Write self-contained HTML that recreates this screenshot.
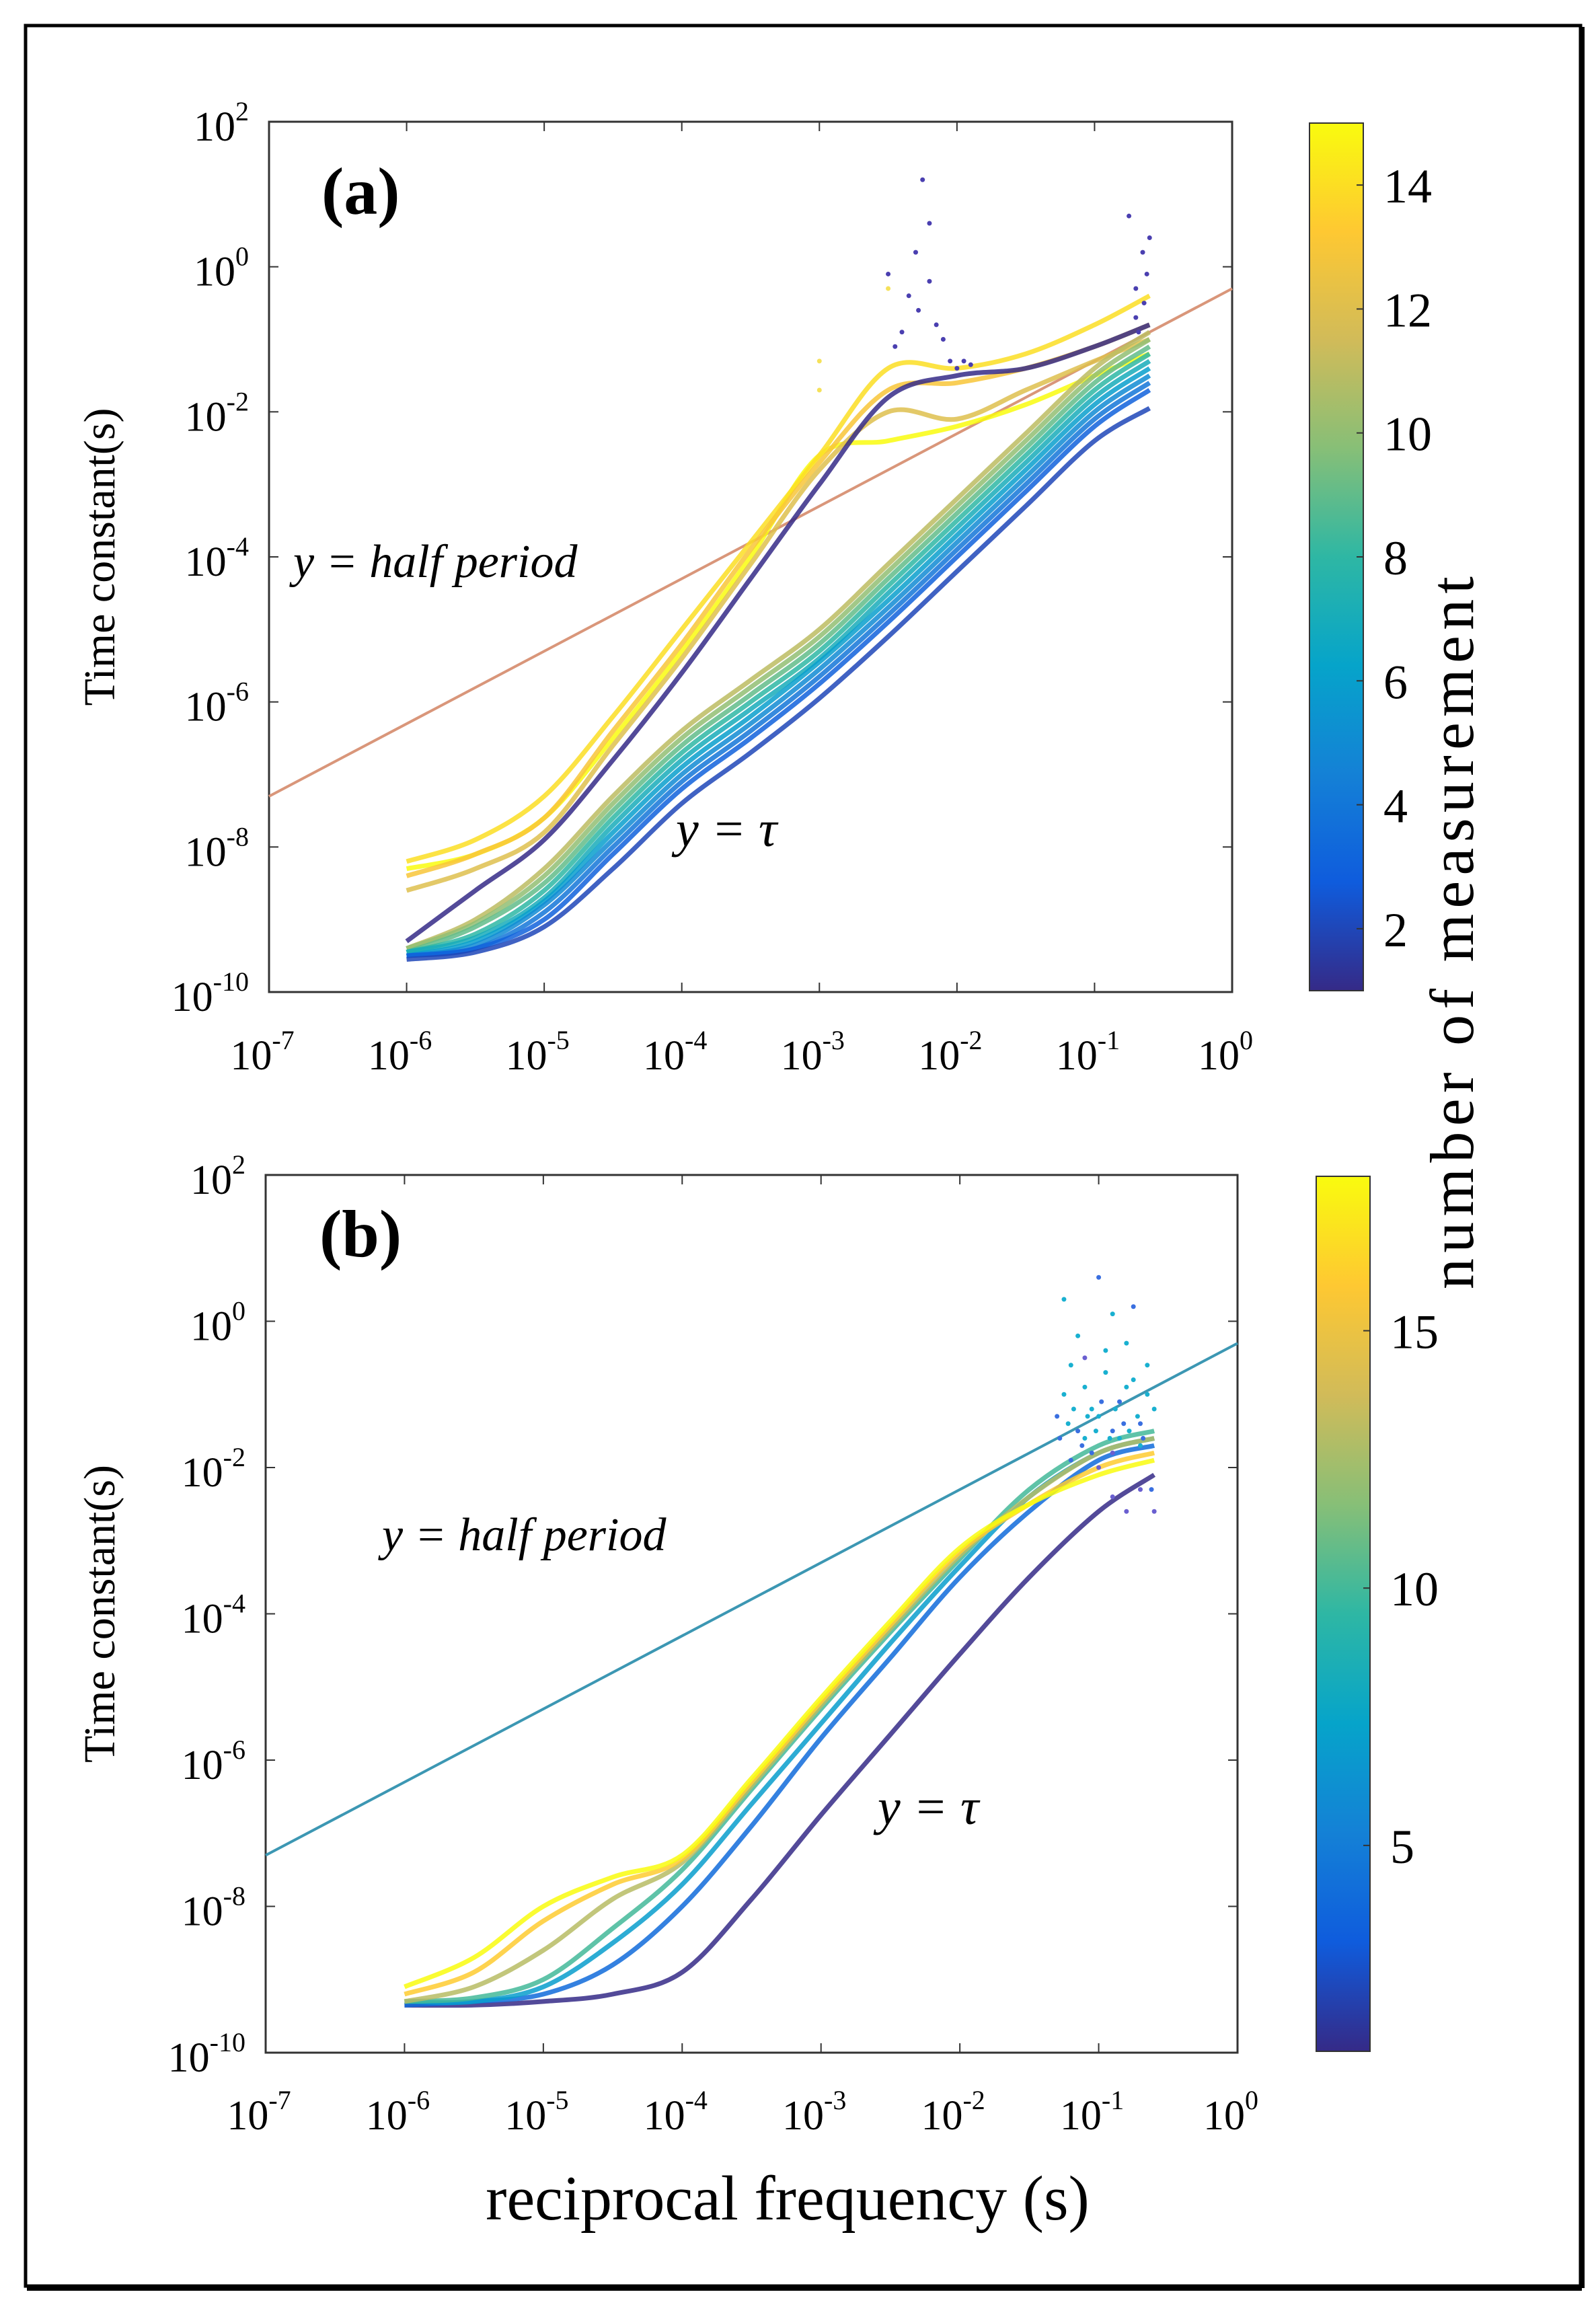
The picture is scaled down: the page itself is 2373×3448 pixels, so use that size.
<!DOCTYPE html>
<html><head><meta charset="utf-8"><style>
html,body{margin:0;padding:0;background:#fff}
svg{display:block;font-family:"Liberation Serif",serif}
</style></head><body>
<svg id="fig" width="2373" height="3448" viewBox="0 0 2373 3448" xmlns="http://www.w3.org/2000/svg">
<rect x="0" y="0" width="2373" height="3448" fill="#fff"/>
<rect x="38" y="38" width="2312" height="3361" fill="none" stroke="#000" stroke-width="5"/>
<line x1="2352" y1="40" x2="2352" y2="3402" stroke="#000" stroke-width="8"/>
<line x1="40" y1="3402" x2="2352" y2="3402" stroke="#000" stroke-width="8"/>
<g id="pa"></g>
<g id="pb"></g>
<text x="0" y="0" transform="translate(2190,1387) rotate(-90)" font-size="92" text-anchor="middle" textLength="1060">number of measurement</text>
<text x="1171" y="3300" font-size="94" text-anchor="middle">reciprocal  frequency (s)</text>
</svg>
<script>
// ---- data ----
const xGrid = [-6,-5.5,-5,-4.5,-4,-3.5,-3,-2.5,-2,-1.5,-1,-0.6];
const aMeas = [15,14,13,12,1,11,10,9,8,7,6,5,4,3,2];
const aSeries = [
 [-8.3,-8.1,-7.6,-6.5,-5.3,-4.0,-2.6,-2.4,-2.2,-1.9,-1.5,-1.2],
 [-8.2,-7.9,-7.3,-6.2,-5.0,-3.8,-2.6,-1.4,-1.4,-1.2,-0.8,-0.4],
 [-8.4,-8.1,-7.6,-6.4,-5.2,-3.9,-2.7,-1.7,-1.6,-1.4,-1.1,-0.8],
 [-8.6,-8.3,-7.8,-6.6,-5.4,-4.1,-2.8,-2.0,-2.1,-1.7,-1.3,-1.0],
 [-9.3,-8.6,-7.9,-6.8,-5.6,-4.3,-3.0,-1.8,-1.5,-1.4,-1.1,-0.8],
 [-9.4,-9.0,-8.3,-7.3,-6.4,-5.7,-5.0,-4.1,-3.2,-2.3,-1.4,-0.9],
 [-9.4,-9.05,-8.4,-7.4,-6.5,-5.8,-5.1,-4.2,-3.3,-2.4,-1.5,-1.0],
 [-9.45,-9.1,-8.5,-7.5,-6.6,-5.9,-5.2,-4.3,-3.4,-2.5,-1.6,-1.1],
 [-9.45,-9.2,-8.6,-7.6,-6.7,-6.0,-5.3,-4.4,-3.5,-2.6,-1.7,-1.2],
 [-9.45,-9.25,-8.7,-7.7,-6.8,-6.1,-5.4,-4.5,-3.6,-2.7,-1.8,-1.3],
 [-9.5,-9.3,-8.75,-7.8,-6.9,-6.2,-5.45,-4.6,-3.7,-2.8,-1.9,-1.4],
 [-9.5,-9.35,-8.8,-7.9,-7.0,-6.3,-5.55,-4.7,-3.8,-2.9,-2.0,-1.5],
 [-9.5,-9.4,-8.9,-8.0,-7.1,-6.4,-5.65,-4.8,-3.9,-3.0,-2.1,-1.6],
 [-9.5,-9.4,-9.0,-8.1,-7.2,-6.5,-5.75,-4.9,-4.0,-3.1,-2.2,-1.7],
 [-9.55,-9.45,-9.1,-8.3,-7.4,-6.7,-5.95,-5.1,-4.2,-3.3,-2.4,-1.95]
];
const aDotsX = [-2.35,-2.3,-2.25,-2.2,-2.2,-2.15,-2.1,-2.05,-2.0,-1.95,-1.9,-2.28,-2.4,-2.45,-2.5,-3.0,-3.0,-2.5,-0.75,-0.7,-0.65,-0.62,-0.6,-0.7,-0.68,-0.64];
const aDotsY = [-0.4,0.2,1.2,0.6,-0.2,-0.8,-1.0,-1.3,-1.4,-1.3,-1.35,-0.6,-0.9,-1.1,-0.1,-1.3,-1.7,-0.3,0.7,-0.3,0.2,-0.1,0.4,-0.7,-0.9,-0.5];
const bMeas = [1,4,7,10,13,16,18];
const bSeries = [
 [-9.35,-9.35,-9.3,-9.2,-8.9,-7.9,-6.75,-5.65,-4.55,-3.5,-2.6,-2.1],
 [-9.35,-9.3,-9.2,-8.8,-8.0,-6.9,-5.7,-4.6,-3.5,-2.6,-1.9,-1.7],
 [-9.3,-9.3,-9.1,-8.5,-7.7,-6.6,-5.5,-4.4,-3.35,-2.4,-1.8,-1.6],
 [-9.3,-9.25,-9.0,-8.3,-7.5,-6.4,-5.3,-4.25,-3.25,-2.3,-1.7,-1.5],
 [-9.3,-9.1,-8.6,-7.9,-7.4,-6.35,-5.25,-4.2,-3.2,-2.4,-1.8,-1.6],
 [-9.2,-8.9,-8.2,-7.7,-7.35,-6.3,-5.2,-4.15,-3.15,-2.5,-2.0,-1.8],
 [-9.1,-8.7,-8.0,-7.6,-7.3,-6.25,-5.15,-4.1,-3.1,-2.5,-2.1,-1.9]
];
const bDotsX = [-1.3,-1.25,-1.2,-1.15,-1.1,-1.05,-1.0,-0.95,-0.9,-0.85,-0.8,-0.75,-0.7,-0.65,-0.6,-1.2,-1.1,-1.0,-0.9,-0.8,-0.7,-0.62,-1.25,-1.15,-1.05,-0.95,-0.85,-0.75,-0.65,-1.0,-0.9,-0.8,-1.1,-0.7,-0.6,-0.9,-1.28,-1.22,-1.18,-1.12,-1.08,-1.02,-0.98,-0.92,-0.88,-0.82,-0.78,-0.72,-0.68];
const bDotsY = [-1.3,-1.0,-0.6,-1.5,-0.9,-1.2,0.6,-0.4,0.1,-1.1,-0.3,-0.8,-1.4,-0.6,-1.2,-1.9,-1.6,-1.3,-1.5,-0.9,-1.7,-2.3,0.3,-0.2,-1.8,-0.7,-1.6,0.2,-1.0,-2.0,-2.4,-2.6,-0.5,-2.3,-2.6,-1.8,-1.6,-1.4,-1.2,-1.7,-1.3,-1.5,-1.1,-1.6,-1.2,-1.4,-1.5,-1.3,-1.6];
const xTicks = [-7,-6,-5,-4,-3,-2,-1,0];
const yTicks = [2,0,-2,-4,-6,-8,-10];
const aCbTicks = [2,4,6,8,10,12,14];
const bCbTicks = [5,10,15];

const NS = "http://www.w3.org/2000/svg";
const parula = ["#352A87","#0F5CDD","#1481D6","#06A4CA","#2EB7A4","#87BF77","#D1BB59","#FEC832","#F9FB0E"];
function hex(c){return [1,3,5].map(i=>parseInt(c.substr(i,2),16));}
function cmap(t){t=Math.max(0,Math.min(1,t));const s=t*(parula.length-1);const i=Math.min(parula.length-2,Math.floor(s));const f=s-i;const a=hex(parula[i]),b=hex(parula[i+1]);return "rgb("+a.map((v,k)=>Math.round(v+(b[k]-v)*f)).join(",")+")";}
function mk(tag,attrs,parent){const e=document.createElementNS(NS,tag);for(const k in attrs)e.setAttribute(k,attrs[k]);parent.appendChild(e);return e;}
function smooth(pts){let d="M"+pts[0][0]+","+pts[0][1];for(let i=0;i<pts.length-1;i++){const p0=pts[Math.max(0,i-1)],p1=pts[i],p2=pts[i+1],p3=pts[Math.min(pts.length-1,i+2)];d+=" C"+(p1[0]+(p2[0]-p0[0])/6)+","+(p1[1]+(p2[1]-p0[1])/6)+" "+(p2[0]-(p3[0]-p1[0])/6)+","+(p2[1]-(p3[1]-p1[1])/6)+" "+p2[0]+","+p2[1];}return d;}

function panel(g,cfg){
 const X=v=>cfg.L+(v+7)/7*(cfg.R-cfg.L);
 const Y=v=>cfg.B-(v+10)/12*(cfg.B-cfg.T);
 const ax=mk("rect",{x:cfg.L,y:cfg.T,width:cfg.R-cfg.L,height:cfg.B-cfg.T,fill:"none",stroke:"#333","stroke-width":3},g);
 
 
 xTicks.forEach(v=>{
  mk("line",{x1:X(v),y1:cfg.B,x2:X(v),y2:cfg.B-14,stroke:"#333","stroke-width":2},g);
  mk("line",{x1:X(v),y1:cfg.T,x2:X(v),y2:cfg.T+14,stroke:"#333","stroke-width":2},g);
  const t=mk("text",{x:X(v)-10,y:cfg.xly,"font-size":62,"text-anchor":"middle"},g);
  
  
  t.innerHTML='10<tspan dy="-30" font-size="40">'+v+'</tspan>';
 });
 yTicks.forEach(v=>{
  mk("line",{x1:cfg.L,y1:Y(v),x2:cfg.L+14,y2:Y(v),stroke:"#333","stroke-width":2},g);
  mk("line",{x1:cfg.R,y1:Y(v),x2:cfg.R-14,y2:Y(v),stroke:"#333","stroke-width":2},g);
  const t=mk("text",{x:cfg.L-30,y:Y(v)+28,"font-size":62,"text-anchor":"end"},g);
  
  
  t.innerHTML='10<tspan dy="-30" font-size="40">'+v+'</tspan>';
 });
 const hp=mk("line",{x1:X(-7),y1:Y(-7-Math.log10(2)),x2:X(0),y2:Y(-Math.log10(2)),stroke:cfg.hpColor,"stroke-width":4},g);
 
 
 cfg.series.forEach((s,i)=>{
  const c=cmap((cfg.meas[i]-cfg.cmin)/(cfg.cmax-cfg.cmin));
  const p=mk("path",{d:smooth(s.map((v,k)=>[X(xGrid[k]),Y(v)])),fill:"none",stroke:c,"stroke-width":7,"stroke-opacity":0.85},g);
  
  
 });
 cfg.dx.forEach((v,i)=>{
  const d=mk("circle",{cx:X(v),cy:Y(cfg.dy[i]),r:3.5,fill:cfg.dotColor(i)},g);
  
  
 });
 const gid="grad"+cfg.id;
 const defs=mk("defs",{},g);const lg=mk("linearGradient",{id:gid,x1:0,y1:1,x2:0,y2:0},defs);
 parula.forEach((c,i)=>mk("stop",{offset:i/(parula.length-1),"stop-color":c},lg));
 const cb=mk("rect",{x:cfg.cbL,y:cfg.T+2,width:cfg.cbW,height:cfg.B-cfg.T-4,fill:"url(#"+gid+")",stroke:"#333","stroke-width":2},g);
 
 
 const CY=v=>cfg.B-2-(v-cfg.cmin)/(cfg.cmax-cfg.cmin)*(cfg.B-cfg.T-4);
 cfg.cbTicks.forEach(v=>{
  mk("line",{x1:cfg.cbL+cfg.cbW-10,y1:CY(v),x2:cfg.cbL+cfg.cbW,y2:CY(v),stroke:"#333","stroke-width":2},g);
  const t=mk("text",{x:cfg.cbL+cfg.cbW+30,y:CY(v)+26,"font-size":72},g);
  
  
  t.textContent=v;
 });
 const yl=mk("text",{transform:"translate(170,"+((cfg.T+cfg.B)/2)+") rotate(-90)","font-size":66,"text-anchor":"middle"},g);
 
 
 yl.textContent="Time constant(s)";
 const lab=mk("text",{x:cfg.labX,y:cfg.labY,"font-size":100,"font-weight":"bold"},g);
 
 
 lab.textContent=cfg.label;
 const h=mk("text",{x:cfg.hpX,y:cfg.hpY,"font-size":70,"font-style":"italic"},g);
 
 
 h.textContent="y = half  period";
 const ta=mk("text",{x:cfg.tX,y:cfg.tY,"font-size":76,"font-style":"italic"},g);
 
 
 ta.textContent="y = τ";
}
panel(document.getElementById("pa"),{id:"a",L:400,R:1832,T:181,B:1475,xly:1590,series:aSeries,meas:aMeas,cmin:1,cmax:15,
 hpColor:"#d9967a",dx:aDotsX,dy:aDotsY,dotColor:i=>(i>=15&&i<=17)?"#f5e15a":"#4a3fb0",cbL:1947,cbW:80,cbTicks:aCbTicks,
 label:"(a)",labX:478,labY:318,hpX:436,hpY:858,tX:1005,tY:1258});
panel(document.getElementById("pb"),{id:"b",L:395,R:1840,T:1747,B:3052,xly:3166,series:bSeries,meas:bMeas,cmin:1,cmax:18,
 hpColor:"#3c97b3",dx:bDotsX,dy:bDotsY,dotColor:i=>(i>=29&&i<=35)?"#6a5fd0":(i%3==0?"#3a6fe0":"#19b0d0"),cbL:1957,cbW:80,cbTicks:bCbTicks,
 label:"(b)",labX:475,labY:1868,hpX:568,hpY:2305,tX:1305,tY:2712});
</script>
</body></html>
